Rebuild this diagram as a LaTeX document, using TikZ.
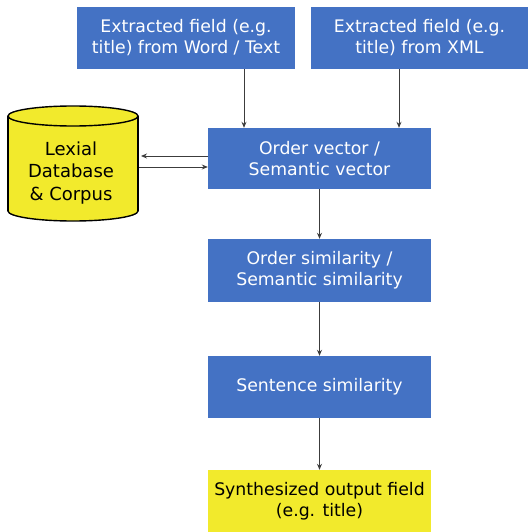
\documentclass[tikz,border=0pt]{standalone}
\usepackage{fontspec}
\setmainfont{DejaVu Sans}
\usetikzlibrary{arrows.meta}
\definecolor{boxblue}{RGB}{68,114,196}
\definecolor{boxyellow}{RGB}{242,234,44}
\definecolor{linegray}{RGB}{60,60,60}
\tikzset{
  bluebox/.style={rectangle, fill=boxblue, text=white, minimum width=218pt, minimum height=62pt,
    inner sep=0pt, align=center, font=\fontsize{17.3}{21}\selectfont},
  yellowbox/.style={rectangle, fill=boxyellow, text=black, minimum width=223pt, minimum height=62pt,
    inner sep=0pt, align=center, font=\fontsize{17.3}{21}\selectfont},
  conn/.style={draw=linegray, line width=0.9pt, -{Stealth[length=6pt,width=5pt]}}
}
\begin{document}
\begin{tikzpicture}[x=1pt,y=-1pt]
\useasboundingbox (0,0) rectangle (528,532);
% top boxes
\node[bluebox] (w) at (186,38) {Extracted field (e.g.\\title) from Word / Text};
\node[bluebox, minimum width=217pt] (x) at (419.5,38) {Extracted field (e.g.\\title) from XML};
% middle column
\node[bluebox, minimum width=223pt, minimum height=61pt] (ov) at (319.5,158.5) {Order vector /\\Semantic vector};
\node[bluebox, minimum width=223pt, minimum height=63pt] (os) at (319.5,270.5) {Order similarity /\\Semantic similarity};
\node[bluebox, minimum width=223pt, minimum height=62pt] (ss) at (319.5,387) {Sentence similarity};
\node[yellowbox] (out) at (319.5,501) {Synthesized output field\\(e.g. title)};
% cylinder
\fill[boxyellow] (8,116) rectangle (138,211);
\draw[fill=boxyellow, line width=1.4pt] (73,211) ellipse [x radius=65, y radius=10];
\fill[boxyellow] (8,116) rectangle (138,211);
\draw[line width=1.4pt] (8,116) -- (8,211) (138,116) -- (138,211);
\draw[fill=boxyellow, line width=1.4pt] (73,116) ellipse [x radius=65, y radius=10];
\node[align=center, inner sep=0pt, font=\fontsize{18}{22.5}\selectfont] (db) at (71,173) {Lexial\\Database\\\& Corpus};
\coordinate (dbin) at (141,156);
\coordinate (dbout) at (139,167);
% connectors
\draw[conn] (w.south -| 244,0) -- (ov.north -| 244,0);
\draw[conn] (x.south -| 399,0) -- (ov.north -| 399,0);
\draw[conn] (ov.west |- dbin) -- (dbin);
\draw[conn] (dbout) -- (ov.west |- dbout);
\draw[conn] (ov) -- (os);
\draw[conn] (os) -- (ss);
\draw[conn] (ss) -- (out);
\end{tikzpicture}
\end{document}
